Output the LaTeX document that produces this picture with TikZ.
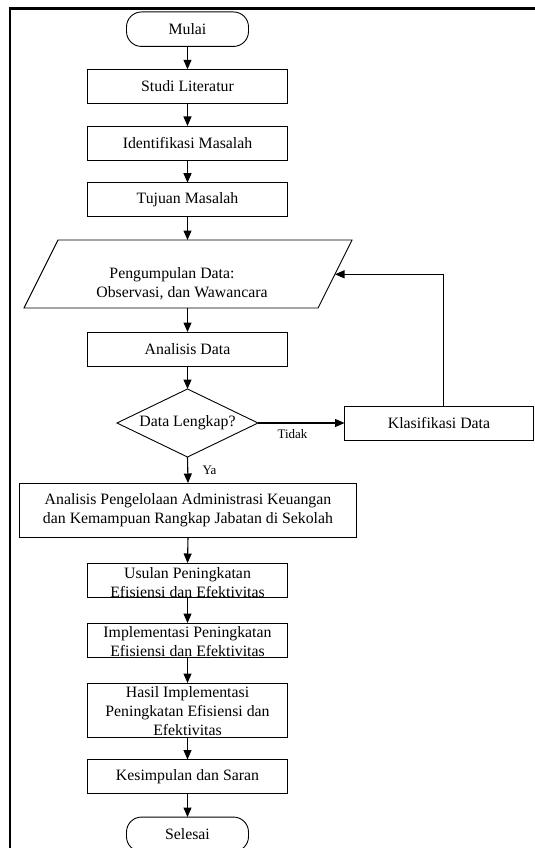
\documentclass[tikz,border=0pt]{standalone}
\usepackage{fontspec}
\setmainfont{Liberation Serif}
\usetikzlibrary{arrows.meta,shapes.geometric}
\begin{document}
\begin{tikzpicture}[x=1pt,y=-1pt,
  every node/.style={font=\fontsize{15.8}{19}\selectfont, inner sep=0pt, outer sep=0pt},
  box/.style={draw, line width=0.9pt, minimum width=200pt, minimum height=34pt, align=center},
  term/.style={draw, line width=0.9pt, rounded corners=15pt, minimum width=122pt, minimum height=34.5pt},
  dec/.style={draw, diamond, line width=0.9pt, minimum width=141pt, minimum height=68pt, aspect=2},
  txt/.style={align=center},
  lbl/.style={font=\fontsize{13}{15}\selectfont},
  arr/.style={line width=1.1pt, -{Triangle[length=9.5pt,width=8pt]}}
]
\useasboundingbox (0,0) rectangle (535,848);
\draw[line width=2.5pt] (10,848) -- (10,8.5) -- (535,8.5);

\node[term] (mulai) at (187.5,29.2) {Mulai};
\node[box] (studi) at (187.5,86.3) {Studi Literatur};
\node[box] (ident) at (187.5,143) {Identifikasi Masalah};
\node[box] (tujuan) at (187.5,199.7) {Tujuan Masalah};
\draw[line width=0.9pt] (58,240) -- (352,240) -- (318,308) -- (24,308) -- cycle;
\coordinate (pdtop) at (187.5,240);
\coordinate (pdbot) at (187.5,308);
\coordinate (pdin) at (335,274.3);
\node[txt] (pdtext) at (177,284) {Pengumpulan Data:\hspace*{10pt}\\\hspace*{10pt}Observasi, dan Wawancara};
\node[box] (anal) at (187.5,349) {Analisis Data};
\node[dec] (dec) at (187.5,423) {Data Lengkap?};
\node[box, minimum width=189pt] (klas) at (439,423) {Klasifikasi Data};
\node[lbl] (tidak) at (292.5,434) {Tidak};
\node[lbl] (ya) at (209.5,470) {Ya};
\node[box, minimum width=337pt, minimum height=54pt] (ap) at (188,510) {Analisis Pengelolaan Administrasi Keuangan\\dan Kemampuan Rangkap Jabatan di Sekolah};
\node[box] (usulan) at (187.5,580) {};
\node[txt] (usulantxt) at (187.5,583) {Usulan Peningkatan\\Efisiensi dan Efektivitas};
\node[box] (impl) at (187.5,640) {};
\node[txt] (impltxt) at (187.5,641.5) {Implementasi Peningkatan\\Efisiensi dan Efektivitas};
\node[box, minimum height=54pt] (hasil) at (187.5,710) {};
\node[txt] (hasiltxt) at (187.5,711.5) {Hasil Implementasi\\Peningkatan Efisiensi dan\\Efektivitas};
\node[box] (kes) at (187.5,776.5) {Kesimpulan dan Saran};
\node[term] (selesai) at (187.5,834.3) {Selesai};

\draw[arr] (mulai.south) -- (studi.north);
\draw[arr] (studi.south) -- (ident.north);
\draw[arr] (ident.south) -- (tujuan.north);
\draw[arr] (tujuan.south) -- (pdtop);
\draw[arr] (pdbot) -- (anal.north);
\draw[arr] (anal.south) -- (dec.north);
\draw[arr] (dec.east) -- (klas.west);
\draw[arr] ([xshift=4.5pt]klas.north) |- (pdin);
\draw[arr] (dec.south) -- (ap.north);
\draw[arr] (ap.south) -- (usulan.north);
\draw[arr] (usulan.south) -- (impl.north);
\draw[arr] (impl.south) -- (hasil.north);
\draw[arr] (hasil.south) -- (kes.north);
\draw[arr] (kes.south) -- (selesai.north);
\end{tikzpicture}
\end{document}
